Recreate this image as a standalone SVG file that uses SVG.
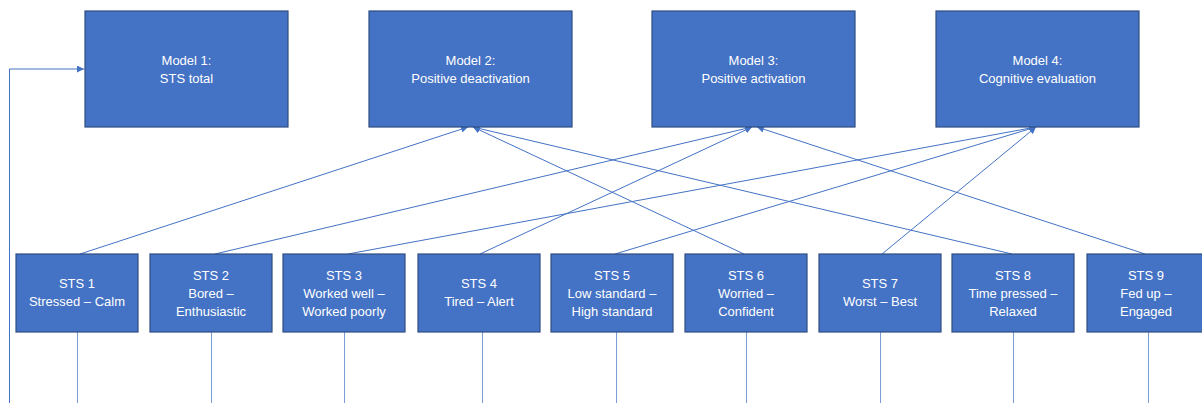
<svg xmlns="http://www.w3.org/2000/svg" width="1202" height="403" viewBox="0 0 1202 403">
<style>
.box{fill:#4472C4;stroke:#2F4D80;stroke-width:1.2}
.t{font-family:"Liberation Sans",Arial,sans-serif;font-size:13px;fill:#ffffff;text-anchor:middle}
.c{fill:none;stroke:#4472C4;stroke-width:1}
.v{fill:none;stroke:#4472C4;stroke-width:1;stroke-opacity:0.7}
</style>
<defs>
<marker id="ah" viewBox="0 0 10 10" refX="10" refY="5" markerWidth="7" markerHeight="7" markerUnits="userSpaceOnUse" orient="auto">
<path d="M0,0 L10,5 L0,10 z" fill="#4472C4"/>
</marker>
</defs>
<rect width="1202" height="403" fill="#ffffff"/>
<g id="connectors">
<polyline class="c" points="9.5,403 9.5,69 84,69" marker-end="url(#ah)"/>
<line class="c" x1="80" y1="254" x2="468" y2="127" marker-end="url(#ah)"/>
<line class="c" x1="744" y1="254" x2="473" y2="127" marker-end="url(#ah)"/>
<line class="c" x1="1012" y1="254" x2="473" y2="127" marker-end="url(#ah)"/>
<line class="c" x1="215" y1="254" x2="752" y2="127" marker-end="url(#ah)"/>
<line class="c" x1="480" y1="254" x2="752" y2="127" marker-end="url(#ah)"/>
<line class="c" x1="1145" y1="254" x2="757" y2="127" marker-end="url(#ah)"/>
<line class="c" x1="348" y1="254" x2="1036" y2="127" marker-end="url(#ah)"/>
<line class="c" x1="615" y1="254" x2="1036" y2="127" marker-end="url(#ah)"/>
<line class="c" x1="882" y1="254" x2="1036" y2="127" marker-end="url(#ah)"/>
<line class="v" x1="77.5" y1="332" x2="77.5" y2="403"/>
<line class="v" x1="211.5" y1="332" x2="211.5" y2="403"/>
<line class="v" x1="344.5" y1="332" x2="344.5" y2="403"/>
<line class="v" x1="482.5" y1="332" x2="482.5" y2="403"/>
<line class="v" x1="616.5" y1="332" x2="616.5" y2="403"/>
<line class="v" x1="746.5" y1="332" x2="746.5" y2="403"/>
<line class="v" x1="880.5" y1="332" x2="880.5" y2="403"/>
<line class="v" x1="1013.5" y1="332" x2="1013.5" y2="403"/>
<line class="v" x1="1148.5" y1="332" x2="1148.5" y2="403"/>
</g>
<g id="model1"><rect class="box" x="85" y="11" width="203" height="116"/><text class="t" x="186.5" y="65">Model 1:</text><text class="t" x="186.5" y="83">STS total</text></g>
<g id="model2"><rect class="box" x="369" y="11" width="203" height="116"/><text class="t" x="470.5" y="65">Model 2:</text><text class="t" x="470.5" y="83">Positive deactivation</text></g>
<g id="model3"><rect class="box" x="652" y="11" width="203" height="116"/><text class="t" x="753.5" y="65">Model 3:</text><text class="t" x="753.5" y="83">Positive activation</text></g>
<g id="model4"><rect class="box" x="936" y="11" width="203" height="116"/><text class="t" x="1037.5" y="65">Model 4:</text><text class="t" x="1037.5" y="83">Cognitive evaluation</text></g>
<g id="sts1"><rect class="box" x="16" y="254" width="122" height="78"/><text class="t" x="77" y="288">STS 1</text><text class="t" x="77" y="306">Stressed – Calm</text></g>
<g id="sts2"><rect class="box" x="150" y="254" width="122" height="78"/><text class="t" x="211" y="280">STS 2</text><text class="t" x="211" y="298">Bored –</text><text class="t" x="211" y="316">Enthusiastic</text></g>
<g id="sts3"><rect class="box" x="283" y="254" width="122" height="78"/><text class="t" x="344" y="280">STS 3</text><text class="t" x="344" y="298">Worked well –</text><text class="t" x="344" y="316">Worked poorly</text></g>
<g id="sts4"><rect class="box" x="418" y="254" width="122" height="78"/><text class="t" x="479" y="288">STS 4</text><text class="t" x="479" y="306">Tired – Alert</text></g>
<g id="sts5"><rect class="box" x="551" y="254" width="122" height="78"/><text class="t" x="612" y="280">STS 5</text><text class="t" x="612" y="298">Low standard –</text><text class="t" x="612" y="316">High standard</text></g>
<g id="sts6"><rect class="box" x="685" y="254" width="122" height="78"/><text class="t" x="746" y="280">STS 6</text><text class="t" x="746" y="298">Worried –</text><text class="t" x="746" y="316">Confident</text></g>
<g id="sts7"><rect class="box" x="819" y="254" width="122" height="78"/><text class="t" x="880" y="288">STS 7</text><text class="t" x="880" y="306">Worst – Best</text></g>
<g id="sts8"><rect class="box" x="952" y="254" width="122" height="78"/><text class="t" x="1013" y="280">STS 8</text><text class="t" x="1013" y="298">Time pressed –</text><text class="t" x="1013" y="316">Relaxed</text></g>
<g id="sts9"><rect class="box" x="1087" y="254" width="122" height="78"/><text class="t" x="1146" y="280">STS 9</text><text class="t" x="1146" y="298">Fed up –</text><text class="t" x="1146" y="316">Engaged</text></g>
</svg>
